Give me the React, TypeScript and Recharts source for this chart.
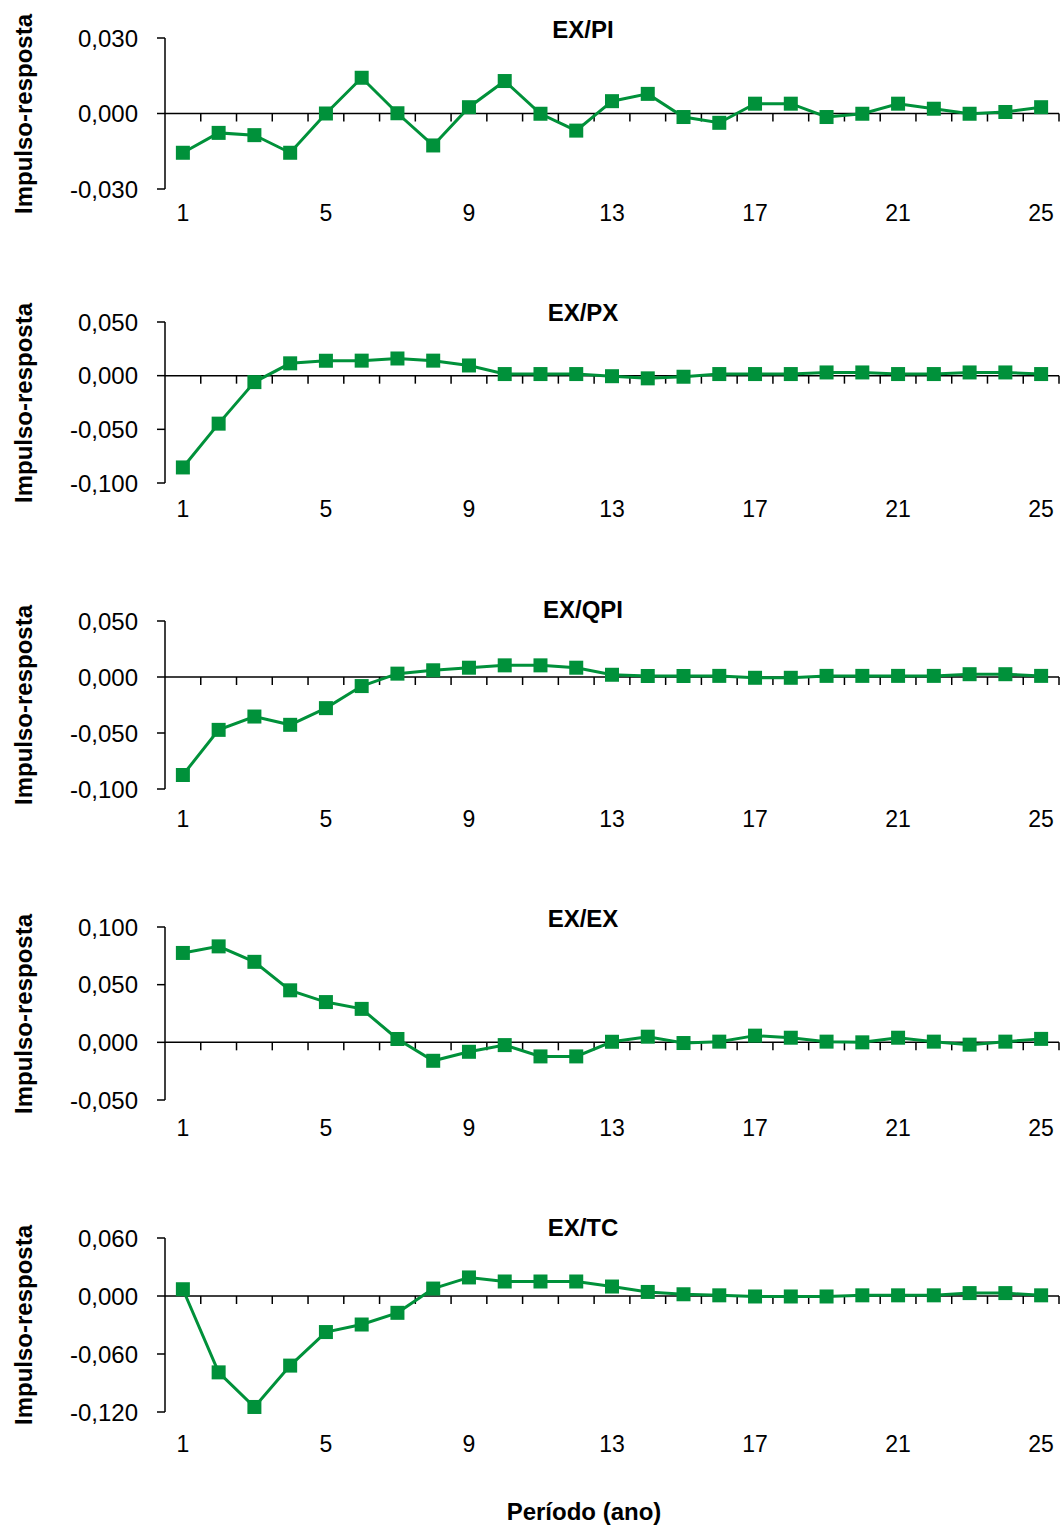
import React from 'react';
import { LineChart, Line, XAxis, YAxis, ReferenceLine } from 'recharts';

// período (ano)
const periods = [1, 2, 3, 4, 5, 6, 7, 8, 9, 10, 11, 12, 13, 14, 15, 16, 17, 18, 19, 20, 21, 22, 23, 24, 25];
const xTicks = [1, 5, 9, 13, 17, 21, 25];

// impulso-resposta
const exPi = [-0.0156, -0.0077, -0.0086, -0.0156, 0.0, 0.0142, 0.0001, -0.0127, 0.0025, 0.0129, -0.0001, -0.0068, 0.0049, 0.0078, -0.0014, -0.0037, 0.0039, 0.0039, -0.0014, -0.0001, 0.0039, 0.0019, -0.0001, 0.0006, 0.0025];
const exPx = [-0.0855, -0.0447, -0.006, 0.0115, 0.0139, 0.014, 0.016, 0.014, 0.0095, 0.0015, 0.0015, 0.0015, -0.0005, -0.0025, -0.001, 0.0015, 0.0015, 0.0015, 0.003, 0.003, 0.0015, 0.0015, 0.003, 0.003, 0.0015];
const exQpi = [-0.0875, -0.0472, -0.0353, -0.0427, -0.0278, -0.0081, 0.003, 0.006, 0.0083, 0.0104, 0.0104, 0.0083, 0.002, 0.0009, 0.0009, 0.001, -0.0007, -0.0007, 0.001, 0.001, 0.001, 0.001, 0.0025, 0.0025, 0.001];
const exEx = [0.0775, 0.0832, 0.0698, 0.0451, 0.0349, 0.029, 0.0029, -0.016, -0.0082, -0.0024, -0.0122, -0.0122, 0.0005, 0.0049, -0.0006, 0.0006, 0.0058, 0.004, 0.0006, 0.0, 0.004, 0.0006, -0.002, 0.0006, 0.003];
const exTc = [0.007, -0.079, -0.1148, -0.072, -0.0373, -0.0295, -0.0174, 0.0077, 0.0192, 0.015, 0.015, 0.015, 0.0098, 0.0042, 0.0018, 0.0007, -0.0005, -0.0005, -0.0005, 0.0007, 0.0007, 0.0007, 0.003, 0.003, 0.0007];

const piTicks = [-0.03, 0, 0.03];
const pxTicks = [-0.1, -0.05, 0, 0.05];
const qpiTicks = [-0.1, -0.05, 0, 0.05];
const exTicks = [-0.05, 0, 0.05, 0.1];
const tcTicks = [-0.12, -0.06, 0, 0.06];

const GREEN = '#00913A';
const FONT = '"Liberation Sans", Arial, sans-serif';
const WIDTH = 1061;

const fmt = (v: number) => v.toFixed(3).replace('.', ',');

// layout of each panel on the page (plot top/bottom, tick label gap, title y)
const panels = [
  { title: 'EX/PI', values: exPi, ticks: piTicks, top: 38, bottom: 189, gap: 16, titleY: 30 },
  { title: 'EX/PX', values: exPx, ticks: pxTicks, top: 322, bottom: 483, gap: 18, titleY: 313 },
  { title: 'EX/QPI', values: exQpi, ticks: qpiTicks, top: 621, bottom: 789, gap: 22, titleY: 610 },
  { title: 'EX/EX', values: exEx, ticks: exTicks, top: 927, bottom: 1100, gap: 20, titleY: 919 },
  { title: 'EX/TC', values: exTc, ticks: tcTicks, top: 1238, bottom: 1412, gap: 24, titleY: 1228 },
];

function SquareDot(props: any) {
  const { cx, cy, index } = props;
  if (cx == null || cy == null) return <g key={`sq-${index}`} />;
  return <rect key={`sq-${index}`} x={cx - 7} y={cy - 7} width={14} height={14} fill={GREEN} />;
}

// zero line with the small category ticks hanging below it
function ZeroAxis(props: any) {
  const { x1, y1, x2 } = props;
  const step = (x2 - x1) / periods.length;
  return (
    <g>
      <line x1={x1} y1={y1} x2={x2} y2={y1} stroke="#000" strokeWidth={1.5} />
      {periods.map((p, i) => (
        <line key={p} x1={x1 + step * (i + 1)} y1={y1} x2={x1 + step * (i + 1)} y2={y1 + 8} stroke="#000" strokeWidth={1.5} />
      ))}
    </g>
  );
}

function Panel({ panel }: { panel: (typeof panels)[number] }) {
  const data = periods.map((p, i) => ({ period: p, value: panel.values[i] }));
  const plotH = panel.bottom - panel.top;
  const xAxisH = 60;
  const marginTop = 24;
  const lo = panel.ticks[0];
  const hi = panel.ticks[panel.ticks.length - 1];

  return (
    <div style={{ position: 'absolute', left: 0, top: panel.top - marginTop }}>
      <LineChart
        width={WIDTH}
        height={plotH + marginTop + xAxisH}
        data={data}
        margin={{ top: marginTop, right: 2, bottom: 0, left: 0 }}
      >
        <XAxis
          dataKey="period"
          type="number"
          domain={[0.5, 25.5]}
          ticks={xTicks}
          interval={0}
          height={xAxisH}
          axisLine={false}
          tickLine={false}
          tickSize={0}
          tickMargin={panel.gap}
          tick={{ fill: '#000', fontSize: 23, fontFamily: FONT }}
        />
        <YAxis
          type="number"
          domain={[lo, hi]}
          ticks={panel.ticks}
          interval={0}
          width={165}
          tickFormatter={fmt}
          tickSize={8}
          tickMargin={19}
          axisLine={{ stroke: '#000', strokeWidth: 1.5 }}
          tickLine={{ stroke: '#000', strokeWidth: 1.5 }}
          tick={{ fill: '#000', fontSize: 24, fontFamily: FONT }}
        />
        <ReferenceLine y={0} shape={ZeroAxis} />
        <Line
          type="linear"
          dataKey="value"
          stroke={GREEN}
          strokeWidth={3}
          dot={SquareDot}
          activeDot={false}
          isAnimationActive={false}
        />
      </LineChart>
    </div>
  );
}

const labelStyle: React.CSSProperties = {
  position: 'absolute',
  fontFamily: FONT,
  fontWeight: 'bold',
  fontSize: 24,
  color: '#000',
  whiteSpace: 'nowrap',
};

function App() {
  return (
    <div style={{ position: 'absolute', left: 0, top: 0, width: WIDTH, height: 1525, background: '#fff' }}>
      {panels.map((panel) => (
        <React.Fragment key={panel.title}>
          <Panel panel={panel} />
          <div style={{ ...labelStyle, left: 583, top: panel.titleY, transform: 'translate(-50%, -50%)' }}>
            {panel.title}
          </div>
          <div
            style={{
              ...labelStyle,
              left: 24,
              top: (panel.top + panel.bottom) / 2,
              transform: 'translate(-50%, -50%) rotate(-90deg)',
            }}
          >
            Impulso-resposta
          </div>
        </React.Fragment>
      ))}
      <div style={{ ...labelStyle, left: 584, top: 1512, transform: 'translate(-50%, -50%)' }}>
        Período (ano)
      </div>
    </div>
  );
}

export default App;
